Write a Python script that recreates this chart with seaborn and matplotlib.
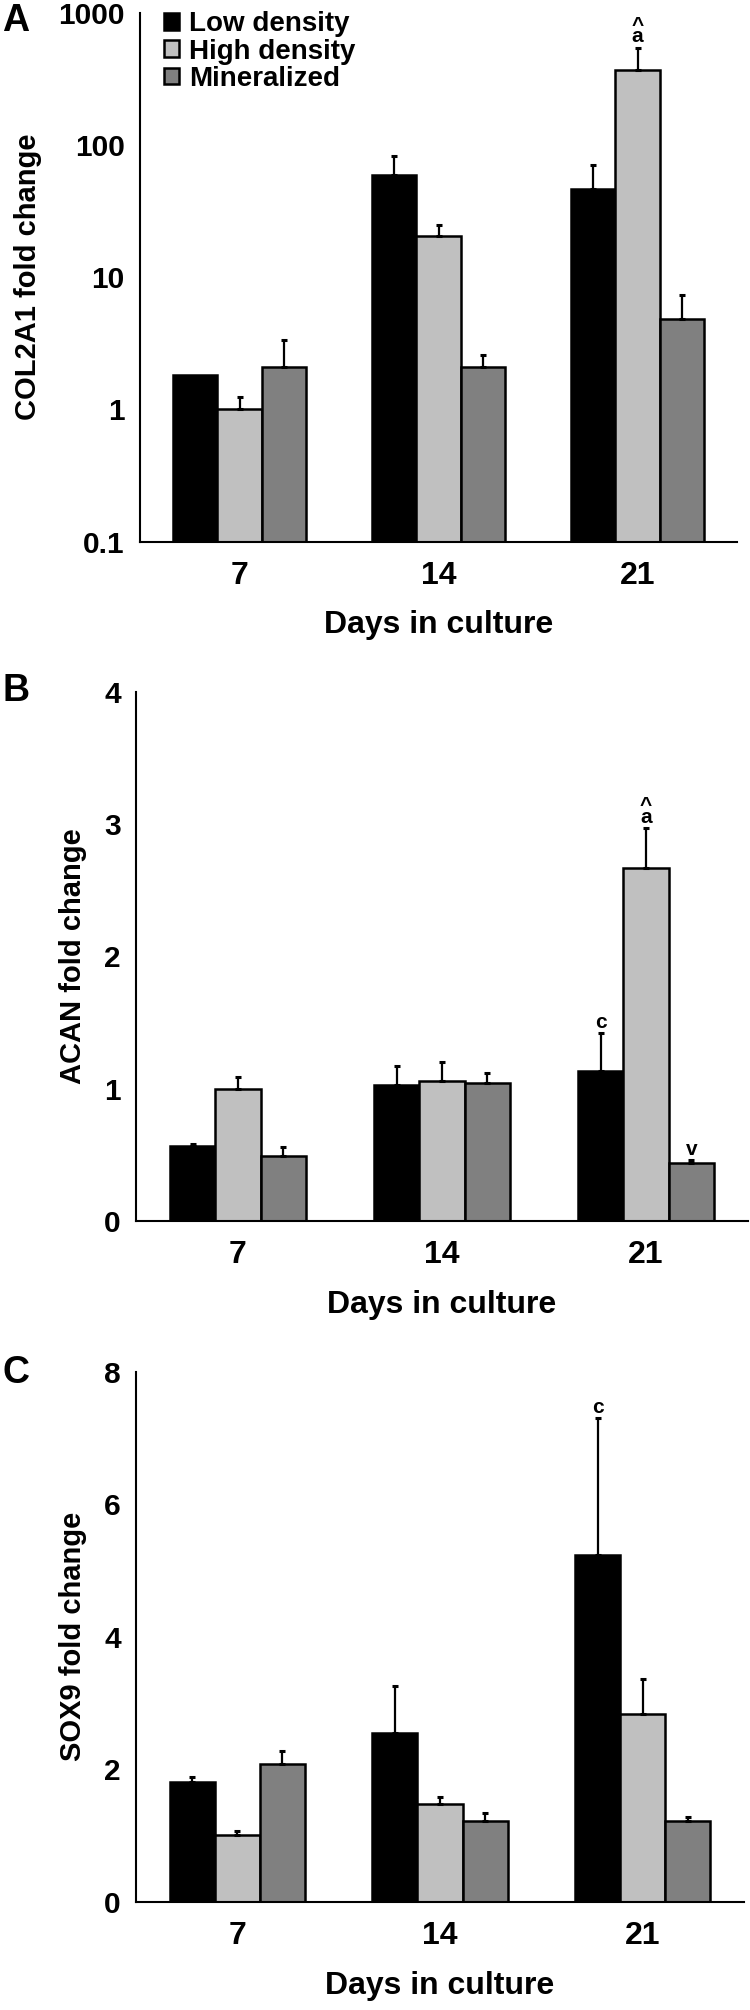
import matplotlib
matplotlib.use("Agg")
import matplotlib.pyplot as plt
import seaborn as sns
import pandas as pd
import numpy as np
from matplotlib.container import BarContainer

sns.set_style("white")
plt.rcParams['font.family'] = ['Liberation Sans', 'DejaVu Sans']
plt.rcParams['font.weight'] = 'bold'
plt.rcParams['axes.labelweight'] = 'bold'
plt.rcParams['text.color'] = 'black'
plt.rcParams['axes.labelcolor'] = 'black'
plt.rcParams['xtick.color'] = 'black'
plt.rcParams['ytick.color'] = 'black'

days = ['7', '14', '21']
groups = ['Low density', 'High density', 'Mineralized']
colors = ['#000000', '#c0c0c0', '#808080']

# Panel A: COL2A1 (log scale)
col2a1_low = [1.81, 59.0, 46.5]
col2a1_high = [1.0, 20.5, 367.0]
col2a1_min = [2.1, 2.08, 4.82]
col2a1_low_err = [0.0, 23.8, 23.5]
col2a1_high_err = [0.23, 4.3, 178.0]
col2a1_min_err = [1.24, 0.5, 2.54]

# Panel B: ACAN
acan_low = [0.57, 1.03, 1.135]
acan_high = [1.0, 1.06, 2.67]
acan_min = [0.49, 1.04, 0.44]
acan_low_err = [0.01, 0.145, 0.285]
acan_high_err = [0.09, 0.14, 0.30]
acan_min_err = [0.07, 0.08, 0.02]

# Panel C: SOX9
sox9_low = [1.81, 2.54, 5.24]
sox9_high = [1.0, 1.48, 2.84]
sox9_min = [2.08, 1.22, 1.22]
sox9_low_err = [0.07, 0.72, 2.06]
sox9_high_err = [0.07, 0.10, 0.52]
sox9_min_err = [0.19, 0.12, 0.06]

yticks_a = [0.1, 1, 10, 100, 1000]
yticklabels_a = ['0.1', '1', '10', '100', '1000']
yticks_b = [0, 1, 2, 3, 4]
yticks_c = [0, 2, 4, 6, 8]

# annotations: (group index, day index, text)
ann_a = [(1, 2, '^\na')]
ann_b = [(1, 2, '^\na'), (0, 2, 'c'), (2, 2, 'v')]
ann_c = [(0, 2, 'c')]

panels = [
    dict(vals=[col2a1_low, col2a1_high, col2a1_min],
         errs=[col2a1_low_err, col2a1_high_err, col2a1_min_err],
         ylabel='COL2A1 fold change', letter='A', log=True,
         yticks=yticks_a, yticklabels=yticklabels_a, ylim=(0.1, 1000),
         rect=[140/750, 1-541.5/2010, 597/750, 528.8/2010],
         letter_y=1-3/2010, ann=ann_a),
    dict(vals=[acan_low, acan_high, acan_min],
         errs=[acan_low_err, acan_high_err, acan_min_err],
         ylabel='ACAN fold change', letter='B', log=False,
         yticks=yticks_b, yticklabels=[str(t) for t in yticks_b], ylim=(0, 4),
         rect=[136/750, 1-1221/2010, 612/750, 529.3/2010],
         letter_y=1-673/2010, ann=ann_b),
    dict(vals=[sox9_low, sox9_high, sox9_min],
         errs=[sox9_low_err, sox9_high_err, sox9_min_err],
         ylabel='SOX9 fold change', letter='C', log=False,
         yticks=yticks_c, yticklabels=[str(t) for t in yticks_c], ylim=(0, 8),
         rect=[136/750, 1-1901.7/2010, 608/750, 530/2010],
         letter_y=1-1355/2010, ann=ann_c),
]

fig = plt.figure(figsize=(7.5, 20.1), dpi=100)

for pi, p in enumerate(panels):
    ax = fig.add_axes(p['rect'])
    rows = []
    for gi, g in enumerate(groups):
        for di, d in enumerate(days):
            rows.append({'day': d, 'group': g, 'value': p['vals'][gi][di]})
    df = pd.DataFrame(rows)
    sns.barplot(data=df, x='day', y='value', hue='group', order=days,
                hue_order=groups, palette=colors, saturation=1,
                width=0.667, edgecolor='black', linewidth=1.8,
                errorbar=None, legend=(pi == 0), ax=ax, zorder=2)
    if p['log']:
        ax.set_yscale('log')
    ax.set_ylim(*p['ylim'])
    ax.set_xlim(-0.5, 2.5)
    ax.set_yticks(p['yticks'])
    ax.set_yticklabels(p['yticklabels'])
    ax.yaxis.set_minor_locator(matplotlib.ticker.NullLocator())
    ax.set_xticks([-0.5, 0.5, 1.5, 2.5], minor=True)
    ax.tick_params(axis='x', which='major', length=0, pad=14, labelsize=23,
                   labelcolor='black')
    ax.tick_params(axis='x', which='minor', length=7, width=1.5, direction='out',
                   color='black')
    ax.tick_params(axis='y', which='major', length=6, width=1.5, direction='out',
                   pad=5, labelsize=21.5, color='black', labelcolor='black')
    for lbl in ax.get_xticklabels() + ax.get_yticklabels():
        lbl.set_fontweight('bold')
    for s in ['top', 'right']:
        ax.spines[s].set_visible(False)
    for s in ['left', 'bottom']:
        ax.spines[s].set_linewidth(1.5)
        ax.spines[s].set_color('black')
        ax.spines[s].set_zorder(5)
    ax.set_xlabel('Days in culture', fontsize=23, fontweight='bold', labelpad=14,
                  color='black')
    ax.set_ylabel(p['ylabel'], fontsize=21, fontweight='bold', labelpad=12,
                  color='black')

    bar_conts = [c for c in ax.containers if isinstance(c, BarContainer)]
    tops = {}
    for gi, cont in enumerate(bar_conts):
        for di, patch in enumerate(cont.patches):
            x = patch.get_x() + patch.get_width() / 2
            y = patch.get_height()
            e = p['errs'][gi][di]
            tops[(gi, di)] = (x, y + e)
            if e > 0:
                ax.errorbar([x], [y], yerr=[[0], [e]], fmt='none', ecolor='black',
                            elinewidth=1.6, capsize=2.2, capthick=2.2, zorder=3)

    for gi, di, txt in p['ann']:
        x, yt = tops[(gi, di)]
        ax.annotate(txt, xy=(x, yt), xytext=(0, 1), textcoords='offset points',
                    ha='center', va='bottom', ma='center', linespacing=0.5,
                    fontsize=15, fontweight='bold', color='black')

    if pi == 0:
        handles, labels = ax.get_legend_handles_labels()
        leg = ax.legend(handles, labels, loc='upper left', bbox_to_anchor=(0.04, 1.003),
                        frameon=False, handlelength=0.55, handleheight=0.55,
                        handletextpad=0.35, labelspacing=0.05, borderpad=0,
                        borderaxespad=0, prop={'weight': 'bold', 'size': 20})
        for t in leg.get_texts():
            t.set_color('black')

    fig.text(0.003, p['letter_y'], p['letter'], fontsize=27, fontweight='bold',
             va='top', ha='left', color='black')

fig.savefig('out.png', dpi=100)
